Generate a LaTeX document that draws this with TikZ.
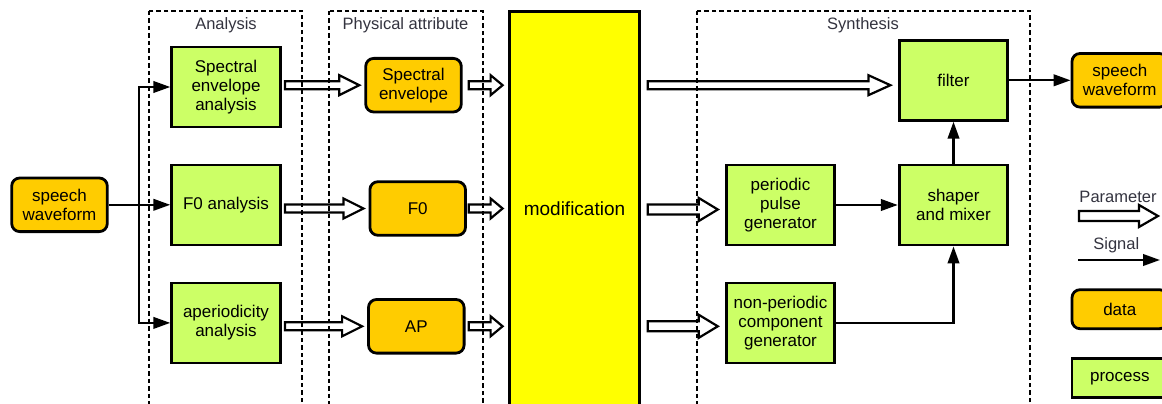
\documentclass[tikz,border=0pt]{standalone}
\usepackage{fontspec}
\setmainfont{Liberation Sans}
\usetikzlibrary{arrows.meta,calc}
\definecolor{procgreen}{HTML}{CCFF66}
\definecolor{dataorange}{HTML}{FFCC00}
\definecolor{modyellow}{HTML}{FFFF00}
\definecolor{framecaption}{HTML}{33333F}
\tikzset{
  boxtext/.style={font=\fontsize{17}{19}\selectfont, align=center, inner sep=0pt},
  proc/.style={boxtext, draw, line width=2.8pt, fill=procgreen,
    minimum width=108.6pt, minimum height=80pt},
  datum/.style={boxtext, draw, line width=2.8pt, fill=dataorange,
    rounded corners=8pt, minimum width=95.6pt, minimum height=53.6pt},
  modbox/.style={draw, line width=2.6pt, fill=modyellow,
    minimum width=130pt, minimum height=440pt, inner sep=0pt},
  modtext/.style={font=\fontsize{19}{22}\selectfont, inner sep=0pt},
  groupframe/.style={draw, line width=1.9pt, dash pattern=on 4.5pt off 3pt},
  captiontext/.style={text=framecaption, font=\fontsize{16.5}{19}\selectfont, inner sep=0pt},
  sigline/.style={line width=2.4pt, line join=miter, -{Triangle[length=17pt,width=11.5pt]}},
  % hollow block arrow: #1 head length, #2 shaft half-height, #3 head half-height
  paramarrow/.style n args={3}{line width=2.2pt, fill=white, line join=miter,
    to path={let \p1=(\tikztostart), \p2=(\tikztotarget) in
      (\x1,\y1+#2) -- (\x2-#1,\y1+#2) -- (\x2-#1,\y1+#3) -- (\x2,\y1)
      -- (\x2-#1,\y1-#3) -- (\x2-#1,\y1-#2) -- (\x1,\y1-#2) -- cycle}},
}
\begin{document}
\begin{tikzpicture}[x=1pt,y=-1pt]
\useasboundingbox (0,0) rectangle (1162,404);

% analysis stage
\node[datum] (swin) at (59.5,204.8) {speech\\waveform};
\node[proc] (sea) at (226,87) {Spectral\\envelope\\analysis};
\node[proc] (f0a) at (226,205) {F0 analysis};
\node[proc] (apa) at (226,322.9) {aperiodicity\\analysis};

% physical attributes
\node[datum] (se) at (413.5,85.2) {Spectral\\envelope};
\node[datum] (f0) at (417.7,208.5) {F0};
\node[datum] (ap) at (416.3,326.3) {AP};

% modification block
\node[modbox] (mod) at (574.5,231.5) {};
\node[modtext] (modlabel) at (574.5,208.5) {modification};

% synthesis stage
\node[proc] (filter) at (953.5,80.3) {filter};
\node[proc] (ppg) at (780.5,205) {periodic\\pulse\\generator};
\node[proc] (mix) at (953.5,205) {shaper\\and mixer};
\node[proc] (npg) at (780.5,322.9) {non-periodic\\component\\generator};
\node[datum] (swout) at (1119.8,80.3) {speech\\waveform};

% signal flow into the analysers
\coordinate (split) at (139,204.8);
\draw[sigline] (swin.east) -- (swin.east -| f0a.west);
\draw[sigline] (split) |- (sea.west);
\draw[sigline] (split) |- (apa.west);

% parameters from analysers to attributes
\draw[paramarrow={20pt}{4pt}{10pt}] ($(sea.east |- se)+(3.3,0)$) to ($(se.west)+(-5,0)$);
\draw[paramarrow={20pt}{4pt}{10pt}] ($(f0a.east |- f0)+(3.3,0)$) to ($(f0.west)+(-5,0)$);
\draw[paramarrow={20pt}{4pt}{10pt}] ($(apa.east |- ap)+(3.3,0)$) to ($(ap.west)+(-5,0)$);

% attributes into modification
\draw[paramarrow={12pt}{4pt}{10pt}] ($(se.east)+(6,0)$) to ($(mod.west)+(-5.6,0)$);
\draw[paramarrow={12pt}{4pt}{10pt}] ($(f0.east)+(1.8,0)$) to ($(mod.west)+(-5.6,0)$);
\draw[paramarrow={12pt}{4pt}{10pt}] ($(ap.east)+(3.2,0)$) to ($(mod.west)+(-5.6,0)$);

% modified parameters into synthesis
\draw[paramarrow={22pt}{4pt}{10pt}] ($(mod.east |- se)+(7,0)$) to ($(filter.west)+(-7.4,0)$);
\draw[paramarrow={19pt}{5pt}{11.5pt}] ($(mod.east |- ppg)+(7,4.5)$) to ($(ppg.west)+(-7,0)$);
\draw[paramarrow={19pt}{5pt}{11.5pt}] ($(mod.east |- ap)+(7,0)$) to ($(npg.west)+(-7,0)$);

% signal flow in synthesis
\draw[sigline] (ppg.east) -- (mix.west);
\draw[sigline] (npg.east) -| (mix.south);
\draw[sigline] (mix.north) -- (filter.south);
\draw[sigline] (filter.east) -- (swout.west);

% legend
\node[captiontext] (lparam) at (1118,197) {Parameter};
\coordinate (lp1) at (1079,216);
\coordinate (lp2) at (1158,216);
\draw[paramarrow={19pt}{5pt}{11pt}] (lp1) to (lp2);
\node[captiontext] (lsig) at (1116.3,245.7) {Signal};
\coordinate (ls1) at (1078,260);
\coordinate (ls2) at (1160,260);
\draw[sigline] (ls1) -- (ls2);
\node[datum, minimum height=39pt] (ldata) at (1119.8,309.2) {data};
\node[proc, minimum width=95.6pt, minimum height=39pt] (lproc) at (1119.8,378.2) {process};

% stage frames, drawn over the connectors
\draw[groupframe] (149.3,11) rectangle (302.3,430);
\draw[groupframe] (329,11) rectangle (482.7,430);
\draw[groupframe] (696.7,11) rectangle (1030,430);
\node[captiontext] (capana) at (226,25) {Analysis};
\node[captiontext] (capphys) at (405.5,25) {Physical attribute};
\node[captiontext] (capsyn) at (863,25) {Synthesis};
\end{tikzpicture}
\end{document}
